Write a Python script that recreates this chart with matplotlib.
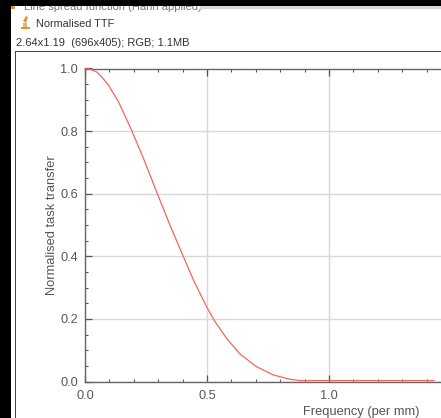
import matplotlib
matplotlib.use("Agg")
import matplotlib.pyplot as plt
from matplotlib.patches import Rectangle, Polygon
from matplotlib.ticker import MultipleLocator, FormatStrFormatter

frequency = [0.0, 0.02, 0.048, 0.07, 0.096, 0.137, 0.191, 0.242, 0.296, 0.348, 0.403, 0.444, 0.498,
             0.533, 0.58, 0.635, 0.703, 0.772, 0.84, 0.88, 0.95, 1.1, 1.3, 1.43]
transfer = [1.0, 0.998, 0.989, 0.972, 0.947, 0.894, 0.803, 0.708, 0.601, 0.5, 0.399, 0.325, 0.239,
            0.191, 0.138, 0.088, 0.047, 0.021, 0.007, 0.003, 0.003, 0.003, 0.003, 0.003]
x_major_ticks = [0.0, 0.5, 1.0]
title_text = "Normalised TTF"
info_text = "2.64x1.19  (696x405); RGB; 1.1MB"
clipped_text = "Line spread function (Hann applied)"
x_label = "Frequency (per mm)"
y_label = "Normalised task transfer"

W, H = 441, 418
plt.rcParams['font.family'] = ['Liberation Sans', 'DejaVu Sans']
fig = plt.figure(figsize=(W / 100, H / 100), dpi=100, facecolor="white")

def fx(p): return p / W
def fy(p): return 1 - p / H

def rect(x, y, w, h, color, z=0):
    fig.add_artist(Rectangle((fx(x), fy(y + h)), w / W, h / H, transform=fig.transFigure,
                             facecolor=color, edgecolor="none", zorder=z))

# window chrome
fig.text(fx(24), fy(7), clipped_text, fontsize=8, color="#777777", va="center", zorder=1)
rect(0, 0, W, 6, "black", 3)
rect(0, 0, 11, H, "black", 3)
rect(200, 6, W - 200, 2.5, "#d8d8d8", 2)
rect(15, 51, 1.2, H - 51, "#444444", 2)
rect(15, 51, W - 15, 1.2, "#444444", 2)
rect(11, 6, 4, 2.5, "#c9a040", 3)

# icon
fig.add_artist(Polygon([(fx(23), fy(21)), (fx(26), fy(16)), (fx(28), fy(17)), (fx(26), fy(23))],
                       transform=fig.transFigure, facecolor="#d99a2b", edgecolor="none", zorder=2))
rect(21, 27, 9, 2, "#d99a2b", 2)
rect(23, 23, 4, 4, "#e5b65a", 2)

fig.text(fx(36), fy(24), title_text, fontsize=7.8, color="#333333", va="center")
fig.text(fx(16), fy(43), info_text, fontsize=8, color="#333333", va="center")

ax_left, ax_right = 85, 451
ax_top, ax_bottom = 68.5, 381.5
ax = fig.add_axes([fx(ax_left), fy(ax_bottom), (ax_right - ax_left) / W, (ax_bottom - ax_top) / H])
ax.plot(frequency, transfer, color="#f4665c", lw=0.9, clip_on=False, zorder=4)

ax.set_xticks(x_major_ticks)
ax.xaxis.set_minor_locator(MultipleLocator(0.1))
ax.yaxis.set_major_locator(MultipleLocator(0.2))
ax.yaxis.set_minor_locator(MultipleLocator(0.05))
ax.xaxis.set_major_formatter(FormatStrFormatter("%.1f"))
ax.yaxis.set_major_formatter(FormatStrFormatter("%.1f"))
ax.set_xlim(0, 1.5)
ax.set_ylim(0, 1)
ax.grid(True, which="major", color="#d8d8d8", lw=1.0, zorder=0)
ax.set_axisbelow(True)
ax.tick_params(which="major", direction="in", length=5, width=0.9, color="#555555",
               labelcolor="#555560", labelsize=9.2, top=True, pad=3)
ax.tick_params(which="minor", direction="in", length=2.5, width=0.8, color="#555555", top=True)
ax.tick_params(axis="y", which="major", pad=5)
ax.tick_params(axis="x", which="major", pad=6)
for name, sp in ax.spines.items():
    sp.set_color("#666666")
    sp.set_linewidth(1.0)

fig.text(fx(361), fy(412), x_label, fontsize=9.3, color="#555555", ha="center", va="center")
fig.text(fx(52), fy(225), y_label, fontsize=9.3, color="#555555", rotation=90, ha="center", va="center")

fig.savefig("out.png", dpi=100, facecolor="white")
